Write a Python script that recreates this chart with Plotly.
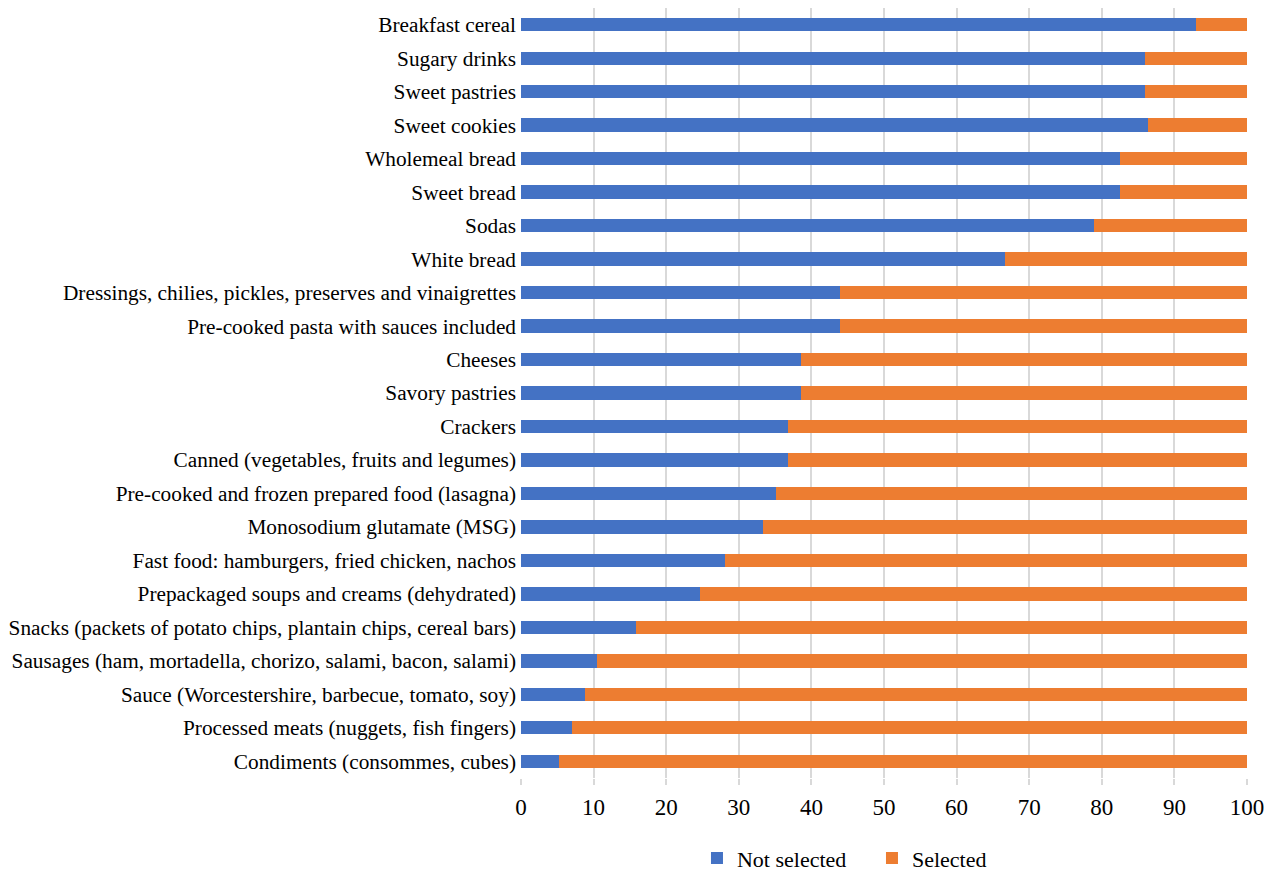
import plotly.graph_objects as go

categories = [
    "Breakfast cereal",
    "Sugary drinks",
    "Sweet pastries",
    "Sweet cookies",
    "Wholemeal bread",
    "Sweet bread",
    "Sodas",
    "White bread",
    "Dressings, chilies, pickles, preserves and vinaigrettes",
    "Pre-cooked pasta with sauces included",
    "Cheeses",
    "Savory pastries",
    "Crackers",
    "Canned (vegetables, fruits and legumes)",
    "Pre-cooked and frozen prepared food (lasagna)",
    "Monosodium glutamate (MSG)",
    "Fast food: hamburgers, fried chicken, nachos",
    "Prepackaged soups and creams (dehydrated)",
    "Snacks (packets of potato chips, plantain chips, cereal bars)",
    "Sausages (ham, mortadella, chorizo, salami, bacon, salami)",
    "Sauce (Worcestershire, barbecue, tomato, soy)",
    "Processed meats (nuggets, fish fingers)",
    "Condiments (consommes, cubes)",
]

not_selected = [93.0, 86.0, 86.0, 86.4, 82.5, 82.5, 78.9, 66.7, 43.9, 43.9,
                38.6, 38.6, 36.8, 36.8, 35.1, 33.3, 28.1, 24.6, 15.8, 10.5,
                8.8, 7.0, 5.3]
selected = [7.0, 14.0, 14.0, 13.6, 17.5, 17.5, 21.1, 33.3, 56.1, 56.1,
            61.4, 61.4, 63.2, 63.2, 64.9, 66.7, 71.9, 75.4, 84.2, 89.5,
            91.2, 93.0, 94.7]

x_ticks = [0, 10, 20, 30, 40, 50, 60, 70, 80, 90, 100]

font_family = "Liberation Serif, Times New Roman, serif"

fig = go.Figure()
fig.add_trace(go.Bar(
    y=categories, x=not_selected, name="Not selected", orientation="h",
    marker=dict(color="#4472C4", line=dict(width=0)),
))
fig.add_trace(go.Bar(
    y=categories, x=selected, name="Selected", orientation="h",
    marker=dict(color="#ED7D31", line=dict(width=0)),
))

fig.update_layout(
    barmode="stack",
    bargap=0.6,
    width=1267,
    height=874,
    margin=dict(l=521, r=20, t=8, b=96, autoexpand=False),
    paper_bgcolor="white",
    plot_bgcolor="white",
    font=dict(family=font_family, size=20, color="black"),
    legend=dict(
        orientation="h", x=0.2424, xanchor="left",
        yref="container", y=0.018, yanchor="middle",
        font=dict(size=22), traceorder="normal", itemwidth=30,
        entrywidth=130, entrywidthmode="pixels",
    ),
    showlegend=True,
)
fig.update_xaxes(
    range=[0, 100],
    tickvals=x_ticks,
    ticktext=[str(v) for v in x_ticks],
    showgrid=True, gridcolor="#d9d9d9", gridwidth=1.5,
    zeroline=False,
    ticks="outside", ticklen=6, tickcolor="#d9d9d9", tickwidth=1.5,
    tickfont=dict(size=23),
    ticklabelstandoff=2,
    automargin=False,
)
fig.update_yaxes(
    categoryorder="array",
    categoryarray=categories[::-1],
    showgrid=False,
    tickfont=dict(size=21.3),
    ticklabelstandoff=4,
    automargin=False,
)

fig.write_html("out.html")
